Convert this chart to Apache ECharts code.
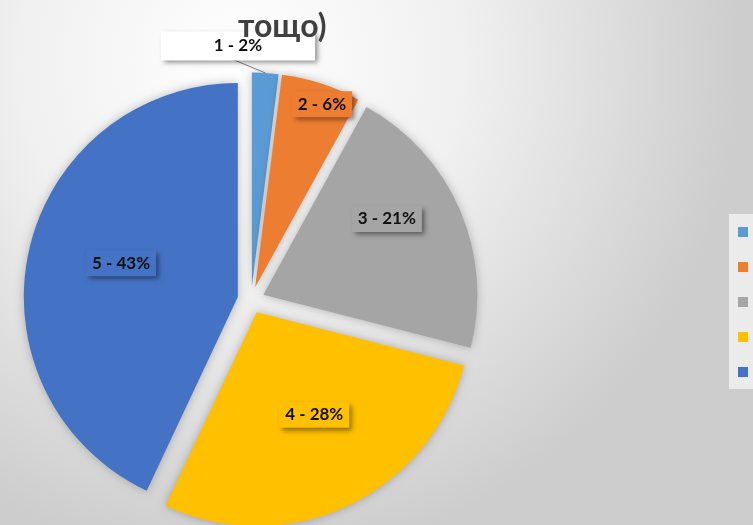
<!DOCTYPE html>
<html>
<head>
<meta charset="utf-8">
<script src="https://cdn.jsdelivr.net/npm/echarts@6/dist/echarts.min.js"></script>
<style>html,body{margin:0;padding:0;background:#fff}#c{width:753px;height:525px}</style>
</head>
<body>
<div id="c"></div>
<script>
const categories = ['1', '2', '3', '4', '5'];
const values = [2, 6, 21, 28, 43];
const colors = ['#5B9BD5', '#ED7D31', '#A5A5A5', '#FFC000', '#4472C4'];
const titleText = 'тощо)';

// label placement (fraction of radius, angle shift in degrees) - style only
const labelRadius = [1.126, 0.896, 0.663, 0.535, 0.554];
const labelAngleShift = [-6.9, 2.1, -8.3, -4.2, 3.6];

const CX = 251, CY = 300, R = 214, OFF = 13.5;
const total = values.reduce((a, b) => a + b, 0);
const bis = [];
let acc = 0;
values.forEach(v => { bis.push((acc + v / 2) / total * 360); acc += v; });

const chart = echarts.init(document.getElementById('c'), null, {renderer: 'canvas'});
const rad = d => d * Math.PI / 180;

const font = 'Lato';
const option = {
  animation: false,
  color: colors,
  graphic: [{
    type: 'rect', z: -100, silent: true,
    shape: {x: 0, y: 0, width: 753, height: 525},
    style: {fill: new echarts.graphic.RadialGradient(0.32, 0.12, 0.95, [
      {offset: 0, color: '#ffffff'},
      {offset: 0.45, color: '#f0f0f0'},
      {offset: 1, color: '#cdcdcd'}
    ])}
  }],
  title: {
    text: titleText, left: 233, top: 6, z: 10,
    textStyle: {fontFamily: font, fontWeight: 'bold', fontSize: 32, color: '#404040'}
  },
  legend: {
    orient: 'vertical', left: 729, top: 214,
    itemWidth: 10, itemHeight: 10, itemGap: 23, icon: 'rect',
    padding: [12, 10, 11, 9],
    backgroundColor: '#ebebeb',
    textStyle: {fontFamily: font, fontSize: 12, color: '#595959'},
    data: categories
  },
  series: [{
    type: 'pie',
    center: [CX, CY],
    radius: [0, R],
    startAngle: 90,
    clockwise: true,
    selectedMode: 'multiple',
    selectedOffset: OFF,
    avoidLabelOverlap: false,
    itemStyle: {shadowBlur: 10, shadowColor: 'rgba(0,0,0,0.25)'},
    select: {itemStyle: {borderWidth: 0}},
    emphasis: {disabled: true},
    label: {
      show: true, position: 'inside',
      formatter: '{b} - {d}%',
      fontFamily: font, fontWeight: 'bold', fontSize: 17, color: '#111',
      padding: [5, 6, 4, 6],
      shadowColor: 'rgba(0,0,0,0.45)', shadowBlur: 5, shadowOffsetX: 3, shadowOffsetY: 3
    },
    labelLine: {show: false},
    labelLayout: function (p) {
      const i = p.dataIndex;
      const a0 = rad(bis[i]);
      const a1 = rad(bis[i] + labelAngleShift[i]);
      const f = labelRadius[i];
      const lr = p.labelRect;
      if (i === 0) {
        // target relative to the un-offset centre (the slice offset is added afterwards)
        const tx = CX + f * R * Math.sin(a1);
        const ty = CY - f * R * Math.cos(a1);
        const sx = CX + R * Math.sin(a0), sy = CY - R * Math.cos(a0);
        const ex = tx - 23, ey = ty + 6;
        return {
          dx: tx - (lr.x + lr.width / 2), dy: ty - (lr.y + lr.height / 2),
          labelLinePoints: [[sx, sy], [(sx + ex) / 2, (sy + ey) / 2], [ex, ey]]
        };
      }
      return {
        dx: R * (f * Math.sin(a1) - 0.5 * Math.sin(a0)),
        dy: R * (-f * Math.cos(a1) + 0.5 * Math.cos(a0))
      };
    },
    data: categories.map((c, i) => {
      const item = {name: c, value: values[i], selected: true,
        label: {backgroundColor: colors[i]}};
      if (i === 0) {
        item.label = {position: 'outside', backgroundColor: '#ffffff',
          padding: [6, 53, 5, 53], lineHeight: 18};
        item.labelLine = {show: true, length: 20, length2: 10, z: 200,
          lineStyle: {color: '#7f7f7f', width: 1}};
      }
      return item;
    })
  }]
};
chart.setOption(option);
</script>
</body>
</html>
